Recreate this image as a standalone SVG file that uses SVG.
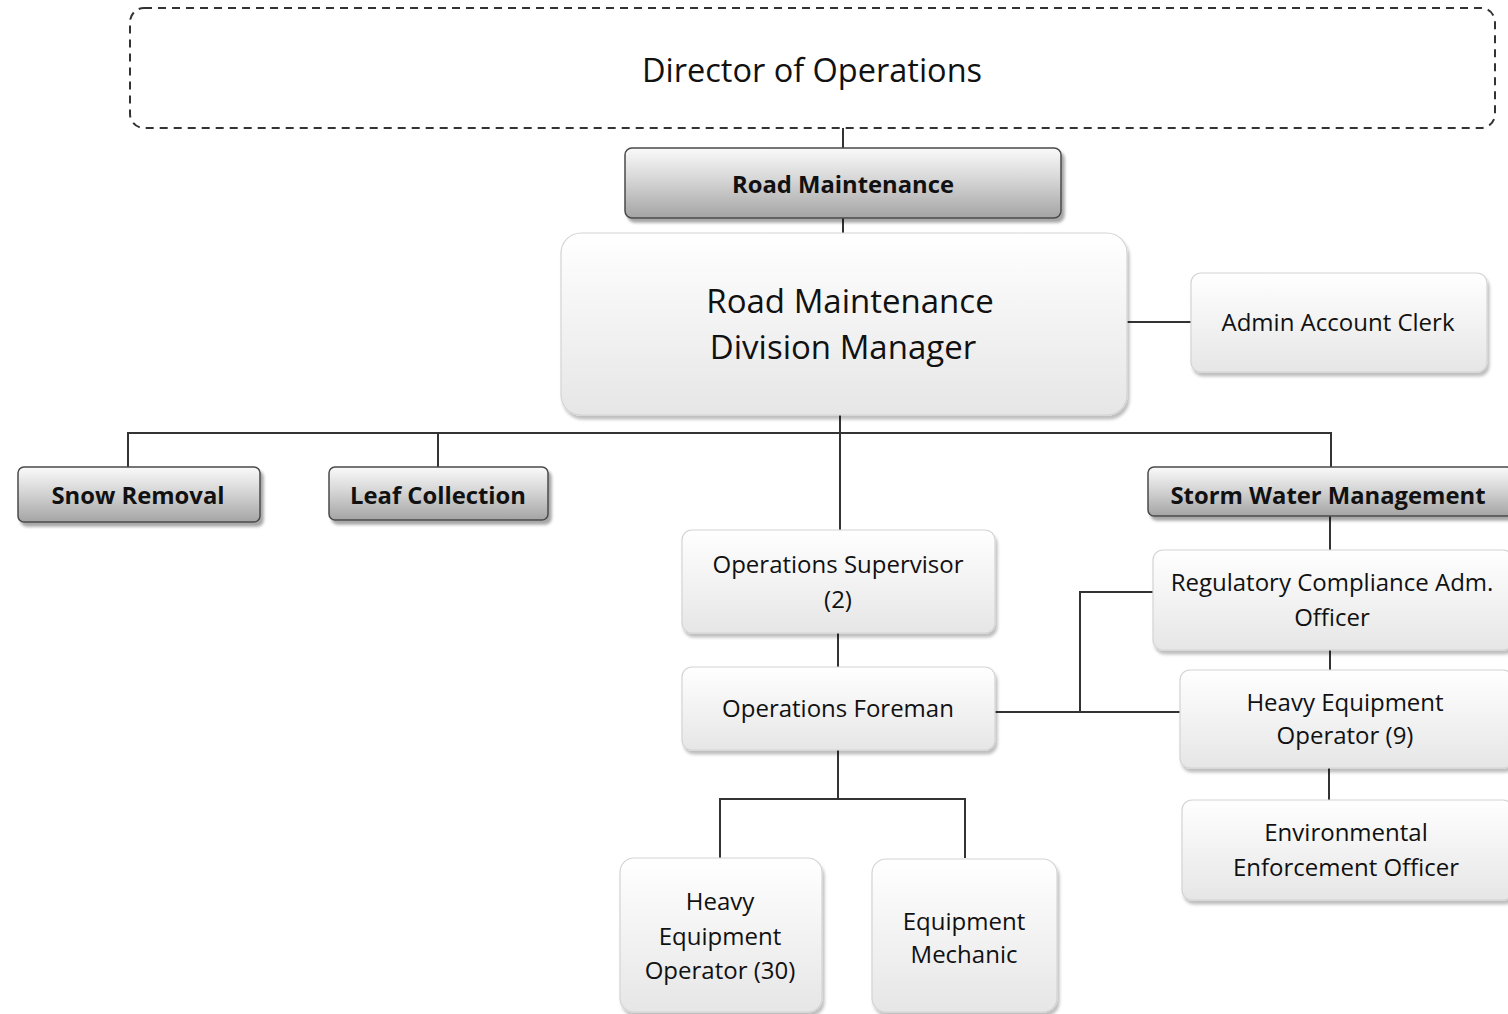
<svg xmlns="http://www.w3.org/2000/svg" width="1508" height="1014" viewBox="0 0 1508 1014">
<defs>
<linearGradient id="gHead" x1="0" y1="0" x2="0" y2="1">
<stop offset="0" stop-color="#fafafa"/><stop offset="0.45" stop-color="#d6d6d6"/><stop offset="1" stop-color="#a4a4a4"/>
</linearGradient>
<linearGradient id="gBox" x1="0" y1="0" x2="0" y2="1">
<stop offset="0" stop-color="#ffffff"/><stop offset="1" stop-color="#e6e6e6"/>
</linearGradient>
<filter id="sh" x="-10%" y="-10%" width="130%" height="140%">
<feDropShadow dx="3" dy="4" stdDeviation="1.5" flood-color="#000" flood-opacity="0.35"/>
</filter>
<filter id="sh2" x="-10%" y="-10%" width="130%" height="140%">
<feDropShadow dx="2" dy="4" stdDeviation="1.5" flood-color="#000" flood-opacity="0.25"/>
</filter>
</defs>
<style>
.head{fill:url(#gHead);stroke:#4a4a4a;stroke-width:1.5;filter:url(#sh)}
.box{fill:url(#gBox);stroke:#d4d4d4;stroke-width:1.2;filter:url(#sh2)}
.ht{font-family:"Open Sans","Noto Sans",sans-serif;font-weight:bold;font-size:23.8px;fill:#111;text-anchor:middle}
.t{font-family:"Open Sans","Noto Sans",sans-serif;font-size:24px;fill:#111;text-anchor:middle}
.c{fill:none;stroke:#333;stroke-width:2}
</style>
<g id="connectors">
<path class="c" d="M843 128V148M843 218V233"/>
<path class="c" d="M1127 322H1191"/>
<path class="c" d="M840 415V530M128 467V433H1331V467M438 433V467"/>
<path class="c" d="M1330 516V550M1330 650V670M1329 768V800"/>
<path class="c" d="M838 633V667"/>
<path class="c" d="M995 712H1180M1080 712V592H1153"/>
<path class="c" d="M838 750V799M720 858V799H965V858"/>
</g>
<g id="director">
<rect x="130" y="8" width="1365" height="120" rx="14" fill="#fff" stroke="#333" stroke-width="2" stroke-dasharray="8,6"/>
<text class="t" x="812" y="82" style="font-size:32.5px">Director of Operations</text>
</g>
<g id="road-maintenance">
<rect class="head" x="625" y="148" width="436" height="70" rx="7"/>
<text class="ht" x="843" y="193">Road Maintenance</text>
</g>
<g id="division-manager">
<rect class="box" x="561" y="233" width="566" height="182" rx="20"/>
<text class="t" x="850" y="313" style="font-size:33px">Road Maintenance</text>
<text class="t" x="843" y="359" style="font-size:33px">Division Manager</text>
</g>
<g id="admin-clerk">
<rect class="box" x="1191" y="273" width="296" height="99" rx="10"/>
<text class="t" x="1338" y="331">Admin Account Clerk</text>
</g>
<g id="snow-removal">
<rect class="head" x="18" y="467" width="242" height="55" rx="6"/>
<text class="ht" x="138" y="504">Snow Removal</text>
</g>
<g id="leaf-collection">
<rect class="head" x="329" y="467" width="219" height="53" rx="6"/>
<text class="ht" x="438" y="504">Leaf Collection</text>
</g>
<g id="storm-water">
<rect class="head" x="1148" y="467" width="365" height="49" rx="6"/>
<text class="ht" x="1328" y="504">Storm Water Management</text>
</g>
<g id="regulatory">
<rect class="box" x="1153" y="550" width="360" height="100" rx="10"/>
<text class="t" x="1332" y="591">Regulatory Compliance Adm.</text>
<text class="t" x="1332" y="626">Officer</text>
</g>
<g id="heo9">
<rect class="box" x="1180" y="670" width="333" height="98" rx="10"/>
<text class="t" x="1345" y="711">Heavy Equipment</text>
<text class="t" x="1345" y="744">Operator (9)</text>
</g>
<g id="environmental">
<rect class="box" x="1182" y="800" width="331" height="100" rx="10"/>
<text class="t" x="1346" y="841">Environmental</text>
<text class="t" x="1346" y="876">Enforcement Officer</text>
</g>
<g id="ops-supervisor">
<rect class="box" x="682" y="530" width="313" height="103" rx="10"/>
<text class="t" x="838" y="573">Operations Supervisor</text>
<text class="t" x="838" y="608">(2)</text>
</g>
<g id="ops-foreman">
<rect class="box" x="682" y="667" width="313" height="83" rx="10"/>
<text class="t" x="838" y="717">Operations Foreman</text>
</g>
<g id="heo30">
<rect class="box" x="620" y="858" width="202" height="154" rx="14"/>
<text class="t" x="720" y="910">Heavy</text>
<text class="t" x="720" y="945">Equipment</text>
<text class="t" x="720" y="979">Operator (30)</text>
</g>
<g id="mechanic">
<rect class="box" x="872" y="859" width="185" height="153" rx="14"/>
<text class="t" x="964" y="930">Equipment</text>
<text class="t" x="964" y="963">Mechanic</text>
</g>
</svg>
